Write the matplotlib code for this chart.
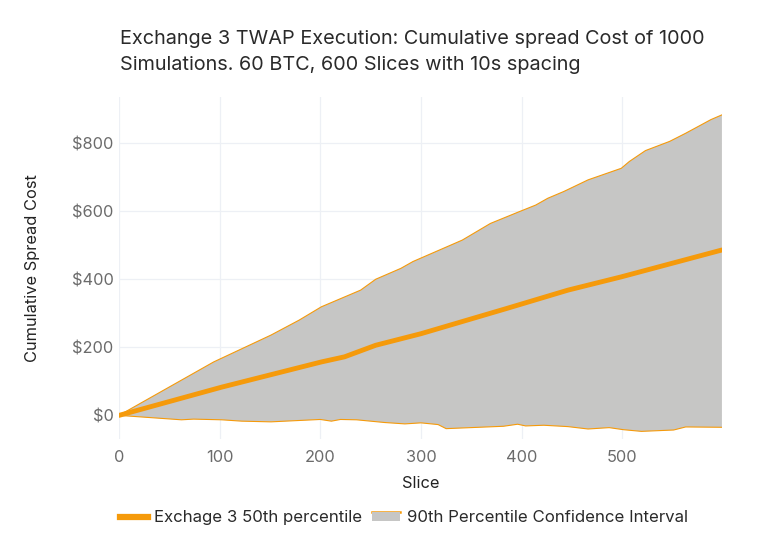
import matplotlib
matplotlib.use("Agg")
import matplotlib.pyplot as plt
from matplotlib.lines import Line2D
from matplotlib.patches import Patch
from matplotlib.ticker import FuncFormatter

plt.rcParams['font.family'] = ['Inter', 'DejaVu Sans']

# Upper bound (95th) of the 90% confidence interval
upper_x = [0, 94, 151, 179, 201, 240, 255, 280, 292, 341, 369, 398, 414, 426, 442,
           466, 499, 507, 523, 547, 563, 588, 599]
upper_y = [0, 157, 236, 280, 319, 368, 400, 432, 452, 515, 564, 599, 618, 638, 658,
           692, 726, 746, 778, 805, 829, 869, 883]

# Median (50th percentile)
median_x = [0, 102, 201, 224, 255, 300, 385, 446, 499, 599]
median_y = [0, 83, 157, 172, 206, 240, 314, 368, 407, 486]

# Lower bound (5th) of the interval
lower_x = [0, 62, 74, 102, 122, 151, 200, 211, 220, 236, 264, 284, 300, 317, 325, 341,
           382, 396, 404, 422, 446, 466, 487, 501, 519, 551, 563, 599]
lower_y = [0, -13, -11, -13, -17, -19, -12, -17, -12, -13, -21, -25, -22, -27, -39, -37,
           -32, -26, -31, -29, -33, -40, -36, -42, -47, -43, -34, -35]

x_ticks = [0, 100, 200, 300, 400, 500]
y_ticks = [0, 200, 400, 600, 800]

title_lines = ["Exchange 3 TWAP Execution: Cumulative spread Cost of 1000",
               "Simulations. 60 BTC, 600 Slices with 10s spacing"]
median_label = "Exchage 3 50th percentile"
ci_label = "90th Percentile Confidence Interval"

orange = "#f59a0b"
fill_gray = "#c6c6c5"

fig = plt.figure(figsize=(7.68, 5.49), dpi=100)
ax = fig.add_axes([0.155, 0.200, 0.785, 0.623])

poly_x = upper_x + lower_x[::-1]
poly_y = upper_y + lower_y[::-1]
ax.fill(poly_x, poly_y, color=fill_gray, lw=0, zorder=2)
ax.plot(upper_x, upper_y, color=orange, lw=0.8, zorder=3)
ax.plot(lower_x, lower_y, color=orange, lw=0.8, zorder=3)
ax.plot(median_x, median_y, color=orange, lw=3.5, solid_capstyle='round', zorder=4)

ax.set_xlim(0, 599)
ax.set_ylim(-70, 935)
ax.set_xticks(x_ticks)
ax.set_yticks(y_ticks)
ax.yaxis.set_major_formatter(FuncFormatter(lambda v, p: f"${int(v)}"))
ax.grid(True, color="#edf0f5", lw=0.9, zorder=0)
ax.set_axisbelow(True)
for s in ax.spines.values():
    s.set_visible(False)
ax.tick_params(axis='both', length=0, labelsize=11.8, labelcolor="#6b6b6b", pad=8)
ax.tick_params(axis='y', pad=4)

ax.set_xlabel("Slice", fontsize=11.8, color="#222222", labelpad=8)
ax.set_ylabel("Cumulative Spread Cost", fontsize=11.8, color="#222222", labelpad=23)

fig.text(0.156, 1 - 44 / 549, title_lines[0], fontsize=14.3, color="#2a2a2a",
         va='baseline', ha='left')
fig.text(0.156, 1 - 70 / 549, title_lines[1], fontsize=14.3, color="#2a2a2a",
         va='baseline', ha='left')

leg_handles = [Line2D([0], [0], color=orange, lw=4.5),
               Patch(facecolor=fill_gray, edgecolor='none')]
leg = fig.legend(leg_handles, [median_label, ci_label], loc='center left',
                 bbox_to_anchor=(0.156, 0.057), ncol=2, frameon=False, fontsize=12.1,
                 handlelength=1.65, handleheight=0.45, handletextpad=0.4,
                 columnspacing=0.6, borderaxespad=0, borderpad=0)
for t in leg.get_texts():
    t.set_color("#2a2a2a")
fig.canvas.draw()
patch = leg.legend_handles[1]
bb = patch.get_window_extent()
inv = fig.transFigure.inverted()
(x0, y0), (x1, y1) = inv.transform([[bb.x0, bb.y0], [bb.x1, bb.y1]])
fig.add_artist(Line2D([x0, x1], [y1, y1], color=orange, lw=1.8, transform=fig.transFigure))

fig.savefig("out.png", dpi=100)
